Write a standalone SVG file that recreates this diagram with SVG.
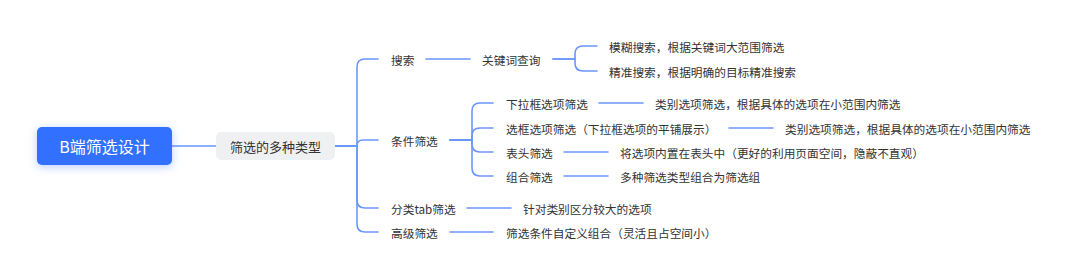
<svg xmlns="http://www.w3.org/2000/svg" width="1080" height="280" viewBox="0 0 1080 280">
<defs>
<filter id="glow" x="-30%" y="-50%" width="160%" height="200%">
<feDropShadow dx="0" dy="2" stdDeviation="4" flood-color="#3370FF" flood-opacity="0.35"/>
</filter>
</defs>
<style>
.c{fill:none;stroke:#6A97FF;stroke-width:1.6;stroke-linecap:round;stroke-linejoin:round}
.t{font-family:"Noto Sans CJK SC","Noto Sans",sans-serif;font-size:11.7px;fill:#333333;dominant-baseline:central}
.root{font-family:"Noto Sans CJK SC","Noto Sans",sans-serif;font-size:16px;fill:#ffffff;dominant-baseline:central;text-anchor:middle}
.sub{font-family:"Noto Sans CJK SC","Noto Sans",sans-serif;font-size:13px;fill:#333333;dominant-baseline:central;text-anchor:middle}
</style>
<rect width="1080" height="280" fill="#ffffff"/>
<g id="connectors">
<path class="c" d="M172,146 H216"/>
<path class="c" d="M335,146 H357 V67 Q357,59 365,59 H378"/>
<path class="c" d="M335,146 H357 Q357,140 363,140 H378"/>
<path class="c" d="M335,146 H357 V200 Q357,208 365,208 H378"/>
<path class="c" d="M335,146 H357 V224 Q357,232 365,232 H378"/>
<path class="c" d="M426,59 H470"/>
<path class="c" d="M553,59 H575 V54 Q575,46 583,46 H597"/>
<path class="c" d="M553,59 H575 V63 Q575,71 583,71 H597"/>
<path class="c" d="M450,140 H472 V111 Q472,103 480,103 H493"/>
<path class="c" d="M450,140 H472 V136 Q472,128 480,128 H493"/>
<path class="c" d="M450,140 H472 V144 Q472,152 480,152 H493"/>
<path class="c" d="M450,140 H472 V168 Q472,176 480,176 H493"/>
<path class="c" d="M599,103 H643"/>
<path class="c" d="M729,128 H773"/>
<path class="c" d="M564,152 H608"/>
<path class="c" d="M564,176 H608"/>
<path class="c" d="M467,208 H511"/>
<path class="c" d="M450,232 H493"/>
</g>
<g id="root">
<rect x="37" y="127" width="135" height="38" rx="5" fill="#3370FF" filter="url(#glow)"/>
<text class="root" x="104.5" y="146">B端筛选设计</text>
</g>
<g id="types">
<rect x="216" y="132" width="119" height="28" rx="5" fill="#EFF0F2"/>
<text class="sub" x="275.5" y="146">筛选的多种类型</text>
</g>
<g id="search"><text class="t" x="391" y="59">搜索</text></g>
<g id="condition"><text class="t" x="391" y="140">条件筛选</text></g>
<g id="tab"><text class="t" x="391" y="208">分类tab筛选</text></g>
<g id="advanced"><text class="t" x="391" y="232">高级筛选</text></g>
<g id="keyword"><text class="t" x="482" y="59">关键词查询</text></g>
<g id="fuzzy"><text class="t" x="609" y="46">模糊搜索，根据关键词大范围筛选</text></g>
<g id="exact"><text class="t" x="609" y="71">精准搜索，根据明确的目标精准搜索</text></g>
<g id="dropdown"><text class="t" x="506" y="103">下拉框选项筛选</text></g>
<g id="checkbox"><text class="t" x="506" y="128">选框选项筛选（下拉框选项的平铺展示）</text></g>
<g id="header"><text class="t" x="506" y="152">表头筛选</text></g>
<g id="combo"><text class="t" x="506" y="176">组合筛选</text></g>
<g id="dropdown-desc"><text class="t" x="655" y="103">类别选项筛选，根据具体的选项在小范围内筛选</text></g>
<g id="checkbox-desc"><text class="t" x="785" y="128">类别选项筛选，根据具体的选项在小范围内筛选</text></g>
<g id="header-desc"><text class="t" x="620" y="152">将选项内置在表头中（更好的利用页面空间，隐蔽不直观）</text></g>
<g id="combo-desc"><text class="t" x="620" y="176">多种筛选类型组合为筛选组</text></g>
<g id="tab-desc"><text class="t" x="523" y="208">针对类别区分较大的选项</text></g>
<g id="advanced-desc"><text class="t" x="506" y="232">筛选条件自定义组合（灵活且占空间小）</text></g>
</svg>
